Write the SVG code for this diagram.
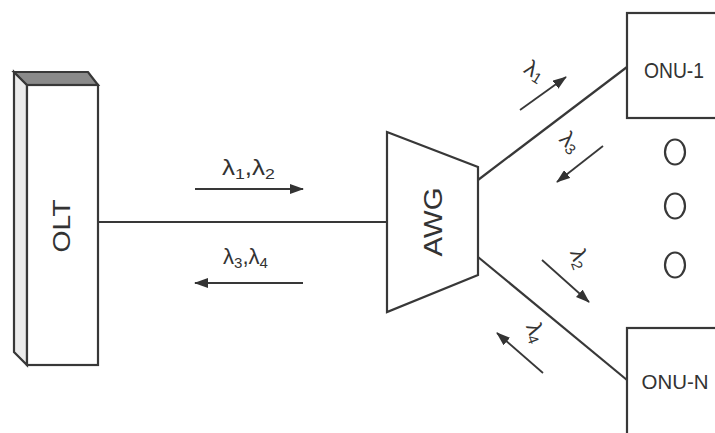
<svg xmlns="http://www.w3.org/2000/svg" width="715" height="433" viewBox="0 0 715 433">
<style>
.ln{stroke:#383838;stroke-width:2.2;fill:none}
.ar{stroke:#383838;stroke-width:1.8;fill:none;marker-end:url(#ah)}
.box{stroke:#383838;stroke-width:2.2;fill:#fff}
.t{font-family:"Liberation Sans",Arial,sans-serif;fill:#333}
.lam{font-family:"Liberation Sans",Arial,sans-serif;fill:#333;font-size:22px}
.sub{font-size:15px}
</style>
<defs>
<marker id="ah" markerUnits="userSpaceOnUse" markerWidth="14" markerHeight="10" refX="13" refY="5" orient="auto">
<path d="M0,0 L14,5 L0,10 z" fill="#333"/>
</marker>
</defs>
<rect width="715" height="433" fill="#fff"/>
<g id="connectors">
<line class="ln" x1="98" y1="222" x2="387" y2="222"/>
<line class="ln" x1="478" y1="180" x2="627" y2="67"/>
<line class="ln" x1="478" y1="257" x2="627" y2="380"/>
<line class="ar" x1="195" y1="189" x2="303" y2="189"/>
<line class="ar" x1="303" y1="283" x2="195" y2="283"/>
<line class="ar" x1="520" y1="110" x2="566" y2="77"/>
<line class="ar" x1="603" y1="146" x2="557" y2="182"/>
<line class="ar" x1="542" y1="260" x2="589" y2="302"/>
<line class="ar" x1="543" y1="373" x2="497" y2="333"/>
<text class="lam" x="222" y="175" textLength="53" lengthAdjust="spacingAndGlyphs">λ<tspan class="sub" dy="4">1</tspan><tspan dy="-4">,λ</tspan><tspan class="sub" dy="4">2</tspan></text>
<text class="lam" x="223" y="264" textLength="45" lengthAdjust="spacingAndGlyphs">λ<tspan class="sub" dy="4">3</tspan><tspan dy="-4">,λ</tspan><tspan class="sub" dy="4">4</tspan></text>
<text class="lam" transform="translate(531,77) rotate(32)" text-anchor="middle">λ<tspan class="sub" dy="3">1</tspan></text>
<text class="lam" transform="translate(565,147) rotate(45)" text-anchor="middle">λ<tspan class="sub" dy="3">3</tspan></text>
<text class="lam" transform="translate(573,261) rotate(70)" text-anchor="middle">λ<tspan class="sub" dy="3">2</tspan></text>
<text class="lam" transform="translate(529,335) rotate(70)" text-anchor="middle">λ<tspan class="sub" dy="3">4</tspan></text>
</g>
<g id="olt">
<polygon points="14,72 27,85 27,365 14,352" fill="#ececec" stroke="#383838" stroke-width="2.2"/>
<polygon points="14,72 88,72 98,85 27,85" fill="#8a8a8a" stroke="#383838" stroke-width="2.2"/>
<rect class="box" x="27" y="85" width="71" height="280"/>
<text class="t" font-size="24" transform="translate(70,226) rotate(-90)" text-anchor="middle" textLength="53" lengthAdjust="spacingAndGlyphs">OLT</text>
</g>
<g id="awg">
<polygon class="box" points="387,132 478,167 478,275 387,312"/>
<text class="t" font-size="26" transform="translate(442,222) rotate(-90)" text-anchor="middle" textLength="69" lengthAdjust="spacingAndGlyphs">AWG</text>
</g>
<g id="onu1">
<rect class="box" x="627" y="13" width="100" height="105"/>
<text class="t" font-size="22" x="674" y="78" text-anchor="middle" textLength="60" lengthAdjust="spacingAndGlyphs">ONU-1</text>
</g>
<g id="dots">
<ellipse cx="675" cy="152" rx="10" ry="12.5" fill="none" stroke="#383838" stroke-width="2.2"/>
<ellipse cx="675" cy="206" rx="10" ry="12.5" fill="none" stroke="#383838" stroke-width="2.2"/>
<ellipse cx="675" cy="265" rx="10" ry="12.5" fill="none" stroke="#383838" stroke-width="2.2"/>
</g>
<g id="onun">
<rect class="box" x="627" y="328" width="100" height="120"/>
<text class="t" font-size="21" x="675" y="389" text-anchor="middle" textLength="67" lengthAdjust="spacingAndGlyphs">ONU-N</text>
</g>
</svg>
